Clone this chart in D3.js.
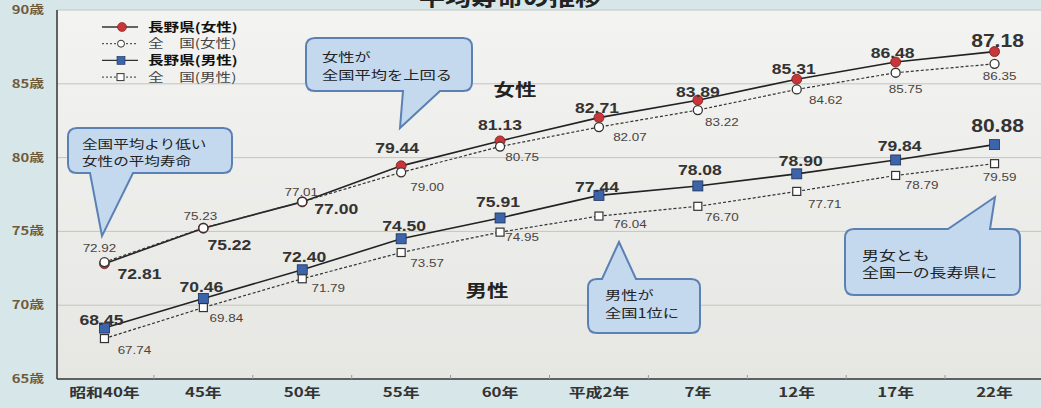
<!DOCTYPE html>
<html><head><meta charset="utf-8">
<script src="https://cdn.jsdelivr.net/npm/d3@7"></script>
<style>
html,body{margin:0;padding:0;background:#d6e6e9;}
svg{display:block;font-family:"Noto Sans CJK JP","Noto Sans",sans-serif;}
</style></head><body>
<svg id="c" width="1041" height="408"></svg>
<script>
const categories = ["昭和40年","45年","50年","55年","60年","平成2年","7年","12年","17年","22年"];
const naganoFemale = [72.81,75.22,77.00,79.44,81.13,82.71,83.89,85.31,86.48,87.18];
const nationalFemale = [72.92,75.23,77.01,79.00,80.75,82.07,83.22,84.62,85.75,86.35];
const naganoMale = [68.45,70.46,72.40,74.50,75.91,77.44,78.08,78.90,79.84,80.88];
const nationalMale = [67.74,69.84,71.79,73.57,74.95,76.04,76.70,77.71,78.79,79.59];
const yTicks = [65,70,75,80,85,90];
const yTickLabels = ["65歳","70歳","75歳","80歳","85歳","90歳"];
const legendLabels = ["長野県(女性)","全　国(女性)","長野県(男性)","全　国(男性)"];
const title = "平均寿命の推移";

const svg = d3.select("#c");
const L = 57, R = 1044, T = 10, B = 379;
const SX = 1.3; // horizontal stretch of the photographed text

const x = d3.scaleBand().domain(categories).range([55, 1044]);
const cx = c => x(c) + x.bandwidth()/2;
const y = d3.scaleLinear().domain([65, 90]).range([B, T]);

function stext(g, px, py, str, sx) {
  return g.append("text").attr("transform", `translate(${px},${py}) scale(${sx || SX},1)`).text(str);
}

// plot background
const grad = svg.append("defs").append("linearGradient").attr("id", "bg").attr("x1", 0).attr("y1", 0).attr("x2", 0).attr("y2", 1);
grad.append("stop").attr("offset", 0).attr("stop-color", "#f3f3f1");
grad.append("stop").attr("offset", 1).attr("stop-color", "#e6e6e3");
svg.append("rect").attr("x", L).attr("y", T).attr("width", R - L).attr("height", B - T)
  .attr("fill", "url(#bg)");

// gridlines
svg.append("g").selectAll("line").data(yTicks.filter(d => d > 65)).join("line")
  .attr("x1", L).attr("x2", R).attr("y1", d => y(d)).attr("y2", d => y(d))
  .attr("stroke", "#c4c4c0").attr("stroke-width", 1);

// y axis labels
const gy = svg.append("g").attr("font-size", 11).attr("font-weight", "bold").attr("fill", "#6e5a3c").attr("text-anchor", "end");
yTicks.forEach((d, i) => stext(gy, 44, y(d) + 4, yTickLabels[i], 1.35));

// axes lines
svg.append("line").attr("x1", L).attr("x2", L).attr("y1", T).attr("y2", B).attr("stroke", "#333").attr("stroke-width", 1.5);
svg.append("line").attr("x1", L).attr("x2", R).attr("y1", B).attr("y2", B).attr("stroke", "#333").attr("stroke-width", 1.5);

// x axis
const xAxis = d3.axisBottom(x).tickSize(0).tickPadding(9);
const gx = svg.append("g").attr("transform", `translate(0,${B})`).call(xAxis);
gx.select(".domain").remove();
gx.selectAll("text").attr("font-size", 13).attr("font-weight", "bold").attr("fill", "#333")
  .attr("font-family", "\"Noto Sans CJK JP\",sans-serif").attr("transform", `scale(${SX},1)`);
svg.append("g").selectAll("line").data(categories.slice(1)).join("line")
  .attr("x1", d => x(d)).attr("x2", d => x(d)).attr("y1", B).attr("y2", B - 4)
  .attr("stroke", "#999");

// title (cropped at top as in the photo)
stext(svg.append("g").attr("font-size", 20).attr("font-weight", "bold").attr("fill", "#222").attr("text-anchor", "middle"),
  510, 6, title);

const line = d3.line().x((d, i) => cx(categories[i])).y(d => y(d));

svg.append("path").datum(naganoFemale).attr("d", line).attr("fill", "none").attr("stroke", "#222").attr("stroke-width", 1.6);
svg.append("path").datum(naganoMale).attr("d", line).attr("fill", "none").attr("stroke", "#222").attr("stroke-width", 1.6);
svg.append("path").datum(nationalFemale).attr("d", line).attr("fill", "none").attr("stroke", "#333").attr("stroke-width", 1.2).attr("stroke-dasharray", "3,2");
svg.append("path").datum(nationalMale).attr("d", line).attr("fill", "none").attr("stroke", "#333").attr("stroke-width", 1.2).attr("stroke-dasharray", "3,2");

svg.append("g").selectAll("circle").data(naganoFemale).join("circle")
  .attr("cx", (d, i) => cx(categories[i])).attr("cy", d => y(d)).attr("r", 5)
  .attr("fill", "#c8363a").attr("stroke", "#7a1d1d").attr("stroke-width", 0.8);
svg.append("g").selectAll("rect").data(naganoMale).join("rect")
  .attr("x", (d, i) => cx(categories[i]) - 5).attr("y", d => y(d) - 5).attr("width", 10).attr("height", 10)
  .attr("fill", "#3b64aa").attr("stroke", "#1d2f55").attr("stroke-width", 0.8);
svg.append("g").selectAll("circle").data(nationalFemale).join("circle")
  .attr("cx", (d, i) => cx(categories[i])).attr("cy", d => y(d)).attr("r", 4.5)
  .attr("fill", "#fff").attr("stroke", "#333").attr("stroke-width", 1.3);
svg.append("g").selectAll("rect").data(nationalMale).join("rect")
  .attr("x", (d, i) => cx(categories[i]) - 4).attr("y", d => y(d) - 4).attr("width", 8).attr("height", 8)
  .attr("fill", "#fff").attr("stroke", "#333").attr("stroke-width", 1.2);

const nfOff = [[35,10],[26,16],[34,7],[-4,-18],[0,-16],[-2,-10],[0,-9],[-3,-11],[-3,-9],[3,-11]];
const natfOff = [[-5,-14],[-3,-12],[-1,-10],[26,14],[22,10],[31,10],[24,12],[29,10],[10,16],[5,12]];
const nmOff = [[-3,-8],[-2,-12],[2,-13],[3,-13],[-2,-16],[-2,-9],[2,-16],[4,-13],[4,-14],[3,-19]];
const natmOff = [[30,11],[23,10],[26,9],[26,10],[22,5],[31,8],[24,11],[28,12],[26,9],[5,13]];

function labels(data, off, size, bold, bigLast) {
  const g = svg.append("g").attr("text-anchor", "middle")
    .attr("font-family", "Arial, \"Liberation Sans\", sans-serif")
    .attr("font-weight", bold ? "bold" : "normal")
    .attr("fill", bold ? "#333" : "#4a4440");
  data.forEach((d, i) => {
    const fs = (bigLast && i === data.length - 1) ? 18 : size;
    stext(g, cx(categories[i]) + off[i][0], y(d) + off[i][1] + fs * 0.36, d.toFixed(2), 1.17)
      .attr("font-size", fs);
  });
}
labels(naganoFemale, nfOff, 15, true, true);
labels(naganoMale, nmOff, 15, true, true);
labels(nationalFemale, natfOff, 11.5, false, false);
labels(nationalMale, natmOff, 11.5, false, false);

const gs = svg.append("g").attr("font-size", 16.5).attr("font-weight", "bold").attr("fill", "#222").attr("text-anchor", "middle");
stext(gs, 515, 96, "女性");
stext(gs, 487, 297, "男性");

const lg = svg.append("g");
legendLabels.forEach((t, i) => {
  const yy = 27 + i * 16.7;
  const dashed = i % 2 === 1;
  lg.append("line").attr("x1", 102).attr("x2", 138).attr("y1", yy).attr("y2", yy)
    .attr("stroke", "#333").attr("stroke-width", dashed ? 1 : 1.3)
    .attr("stroke-dasharray", dashed ? "2,2" : null);
  if (i === 0) lg.append("circle").attr("cx", 122).attr("cy", yy).attr("r", 4.5).attr("fill", "#c8363a").attr("stroke", "#7a1d1d").attr("stroke-width", 0.6);
  if (i === 1) lg.append("circle").attr("cx", 121).attr("cy", yy).attr("r", 3.5).attr("fill", "#fff").attr("stroke", "#333").attr("stroke-width", 1);
  if (i === 2) lg.append("rect").attr("x", 117).attr("y", yy - 4).attr("width", 8).attr("height", 8).attr("fill", "#3b64aa").attr("stroke", "#1d2f55").attr("stroke-width", 0.6);
  if (i === 3) lg.append("rect").attr("x", 117).attr("y", yy - 3.5).attr("width", 7).attr("height", 7).attr("fill", "#fff").attr("stroke", "#333").attr("stroke-width", 1);
  stext(lg, 148, yy + 4.5, t).attr("font-size", 12)
    .attr("font-weight", dashed ? "normal" : "bold").attr("fill", dashed ? "#444" : "#111");
});

function callout(box, tail, lines, textX, textY0, lh, fs) {
  const [x0, y0, x1, y1] = box, r = 9;
  const g = svg.append("g");
  const p = d3.path();
  p.moveTo(x0 + r, y0);
  if (tail.side === "top") { p.lineTo(tail.a, y0); p.lineTo(tail.tx, tail.ty); p.lineTo(tail.b, y0); }
  p.lineTo(x1 - r, y0); p.quadraticCurveTo(x1, y0, x1, y0 + r);
  p.lineTo(x1, y1 - r); p.quadraticCurveTo(x1, y1, x1 - r, y1);
  if (tail.side === "bottom") { p.lineTo(tail.b, y1); p.lineTo(tail.tx, tail.ty); p.lineTo(tail.a, y1); }
  p.lineTo(x0 + r, y1); p.quadraticCurveTo(x0, y1, x0, y1 - r);
  p.lineTo(x0, y0 + r); p.quadraticCurveTo(x0, y0, x0 + r, y0);
  p.closePath();
  g.append("path").attr("d", p.toString()).attr("fill", "#c5d9ee").attr("stroke", "#5b80b4").attr("stroke-width", 2);
  const tg = g.append("g").attr("font-size", fs).attr("fill", "#222");
  lines.forEach((t, i) => stext(tg, textX, textY0 + i * lh, t));
}
callout([68, 128, 232, 173], {side: "bottom", a: 90, b: 133, tx: 102, ty: 236}, ["全国平均より低い", "女性の平均寿命"], 82, 149, 17, 12);
callout([306, 38, 472, 91], {side: "bottom", a: 403, b: 440, tx: 400, ty: 128}, ["女性が", "全国平均を上回る"], 322, 62, 18, 12.5);
callout([588, 279, 700, 333], {side: "top", a: 602, b: 636, tx: 619, ty: 242}, ["男性が", "全国1位に"], 605, 300, 18, 12.5);
callout([845, 229, 1020, 295], {side: "top", a: 948, b: 990, tx: 995, ty: 197}, ["男女とも", "全国一の長寿県に"], 862, 260, 17, 13);
</script></body></html>
